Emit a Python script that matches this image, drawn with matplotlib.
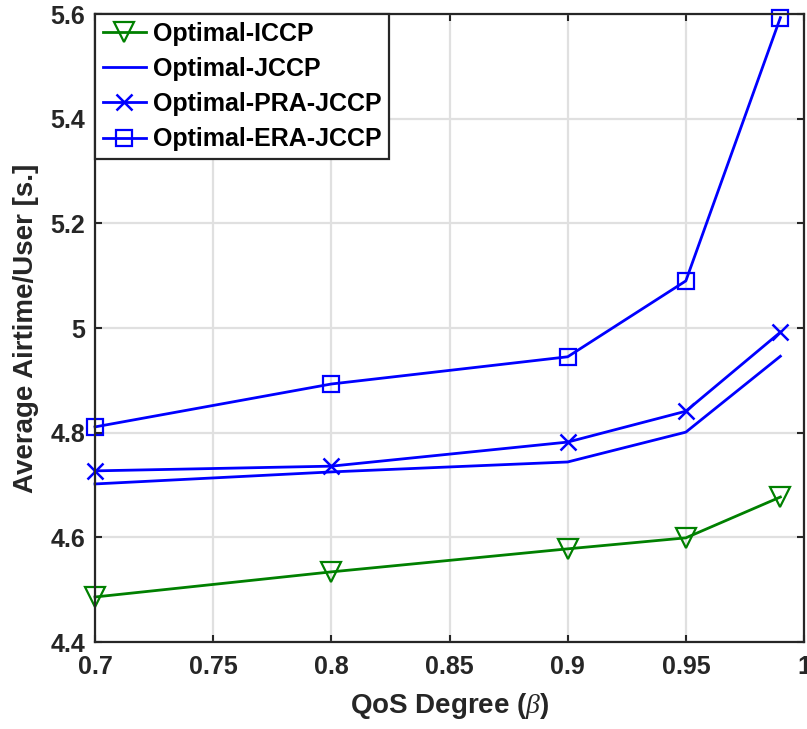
import matplotlib
matplotlib.use("Agg")
import matplotlib.pyplot as plt

qos = [0.7, 0.8, 0.9, 0.95, 0.99]
iccp = [4.486, 4.534, 4.578, 4.599, 4.677]
jccp = [4.702, 4.725, 4.744, 4.801, 4.946]
pra_jccp = [4.727, 4.736, 4.782, 4.841, 4.992]
era_jccp = [4.811, 4.893, 4.945, 5.090, 5.593]

xticks = [0.7, 0.75, 0.8, 0.85, 0.9, 0.95, 1]
xticklabels = ["0.7", "0.75", "0.8", "0.85", "0.9", "0.95", "1"]
yticks = [4.4, 4.6, 4.8, 5.0, 5.2, 5.4, 5.6]
yticklabels = ["4.4", "4.6", "4.8", "5", "5.2", "5.4", "5.6"]

plt.rcParams['font.family'] = ['Liberation Sans', 'DejaVu Sans']
plt.rcParams['font.weight'] = 'bold'
plt.rcParams['mathtext.fontset'] = 'custom'
plt.rcParams['mathtext.it'] = 'Liberation Serif:italic:regular'
plt.rcParams['mathtext.rm'] = 'Liberation Sans:bold'

txt = '#262626'
fig = plt.figure(figsize=(8.07, 7.29), dpi=100)
ax = fig.add_axes([95/807, 1-642/729, (804-95)/807, (642-14)/729])

green = '#008000'
blue = '#0000ff'
lw = 2.0
ax.plot(qos, iccp, color=green, lw=lw, marker='v', ms=15, mfc='none', mew=1.6, label='Optimal-ICCP', clip_on=False)
ax.plot(qos, jccp, color=blue, lw=lw, label='Optimal-JCCP', clip_on=False)
ax.plot(qos, pra_jccp, color=blue, lw=lw, marker='x', ms=12, mew=1.8, label='Optimal-PRA-JCCP', clip_on=False)
ax.plot(qos, era_jccp, color=blue, lw=lw, marker='s', ms=11, mfc='none', mew=1.6, label='Optimal-ERA-JCCP', clip_on=False)

ax.set_xlim(0.7, 1)
ax.set_ylim(4.4, 5.6)
ax.set_xticks(xticks)
ax.set_xticklabels(xticklabels)
ax.set_yticks(yticks)
ax.set_yticklabels(yticklabels)
ax.grid(True, color='#e0e0e0', lw=1.6)
ax.set_axisbelow(True)
ax.tick_params(direction='in', length=5, width=1.5, top=True, right=True, labelsize=18, colors=txt)
ax.tick_params(axis='x', pad=9)
ax.tick_params(axis='y', pad=7)
for s in ax.spines.values():
    s.set_linewidth(1.6)
    s.set_color(txt)

ax.set_xlabel(r'QoS Degree ($\beta$)', fontsize=20, fontweight='bold', color=txt, labelpad=9)
ax.set_ylabel('Average Airtime/User [s.]', fontsize=20, fontweight='bold', color=txt, labelpad=8)

leg = ax.legend(loc='upper left', borderaxespad=0, fontsize=18, frameon=True, fancybox=False,
                edgecolor=txt, framealpha=1, handlelength=1.75, handletextpad=0.25,
                labelspacing=0.45, borderpad=0.3)
leg.get_frame().set_linewidth(1.6)
for t in leg.get_texts():
    t.set_fontweight('bold')
    t.set_color('black')

fig.savefig('out.png', dpi=100)
